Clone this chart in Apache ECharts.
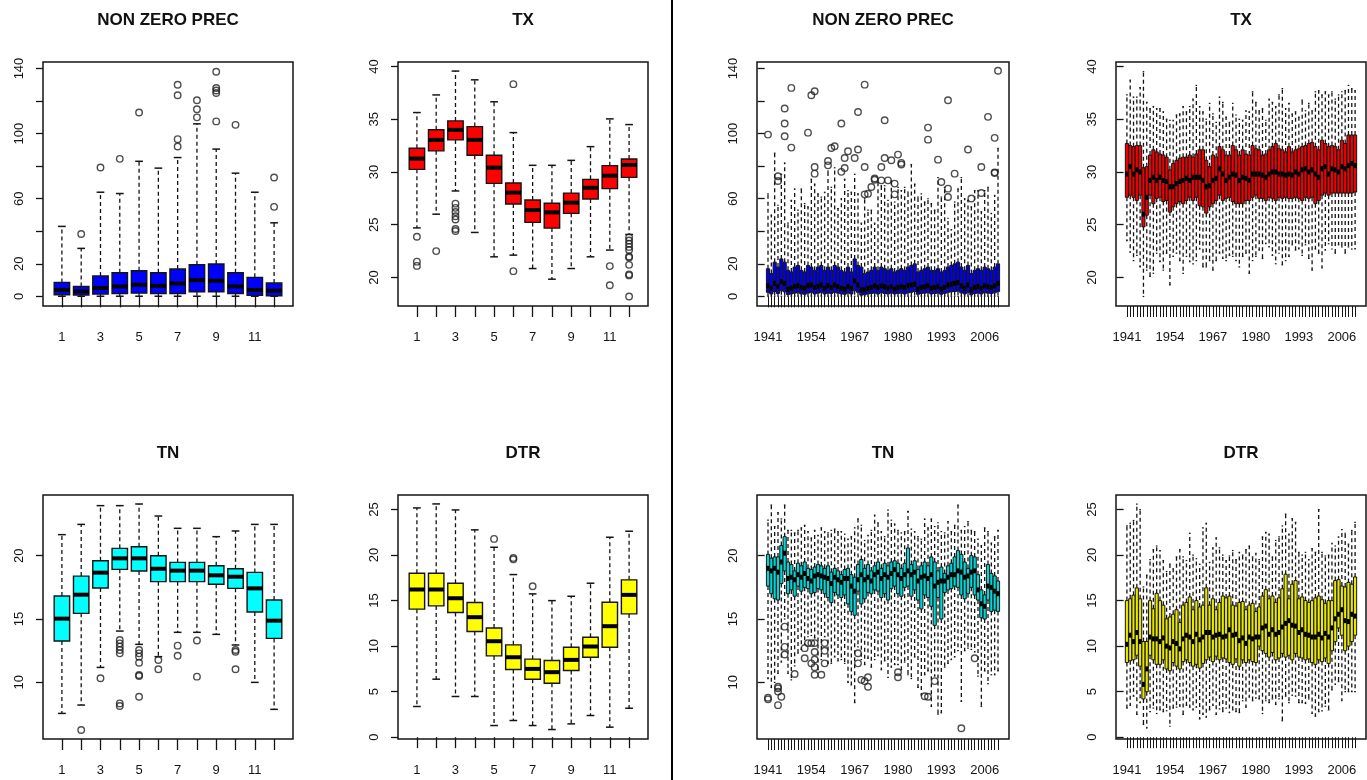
<!DOCTYPE html>
<html>
<head>
<meta charset="utf-8">
<script src="https://cdn.jsdelivr.net/npm/echarts@6/dist/echarts.min.js"></script>
<style>
  html, body { margin: 0; padding: 0; background: #ffffff; }
  #chart { width: 1367px; height: 780px; }
</style>
</head>
<body>
<div id="chart"></div>
<script>
// ---------- Monthly statistics: [lower whisker, Q1, median, Q3, upper whisker] ----------
const monthTicks = [1, 2, 3, 4, 5, 6, 7, 8, 9, 10, 11, 12];
const monthLabels = [1, 3, 5, 7, 9, 11];

const nzpMonth = [
  [0.1, 1.0, 4.0, 8.6, 43.0], [0.1, 0.8, 3.0, 6.1, 29.5], [0.1, 1.4, 5.1, 12.5, 64.0],
  [0.1, 1.8, 6.1, 14.5, 63.2], [0.1, 2.0, 7.2, 15.8, 83.0], [0.1, 1.8, 6.5, 14.5, 78.8],
  [0.1, 1.8, 8.0, 16.8, 85.3], [0.1, 2.9, 10.0, 19.4, 106.0], [0.1, 2.9, 9.6, 19.9, 90.5],
  [0.1, 1.8, 6.1, 14.5, 75.7], [0.1, 0.6, 3.9, 11.7, 64.0], [0.1, 0.4, 3.5, 8.2, 45.2]
];
const nzpMonthOutliers = [
  [], [38.3], [79.2], [84.5], [113.0], [], [130.0, 123.6, 96.6, 92.1],
  [120.5, 115.0, 110.0], [138.0, 128.0, 126.5, 125.0, 107.5], [105.4], [], [73.0, 55.0]
];

const txMonth = [
  [24.7, 30.25, 31.27, 32.25, 35.63], [26.0, 32.0, 33.04, 34.0, 37.3], [28.2, 33.04, 33.99, 34.84, 39.56],
  [24.27, 31.58, 33.04, 34.3, 38.73], [21.96, 28.92, 30.41, 31.58, 36.65], [22.12, 26.96, 28.04, 28.96, 33.73],
  [20.85, 25.22, 26.39, 27.34, 30.63], [19.84, 24.68, 26.17, 27.03, 30.63], [20.85, 26.08, 27.09, 28.0, 31.1],
  [21.96, 27.44, 28.5, 29.3, 32.4], [22.6, 28.42, 29.65, 30.6, 35.03], [24.08, 29.49, 30.66, 31.23, 34.49]
];
const txMonthOutliers = [
  [23.86, 21.5, 21.1], [22.5], [27.0, 26.6, 26.2, 25.8, 25.5, 24.6, 24.4], [], [], [38.32, 20.6],
  [], [], [], [], [21.08, 19.27], [23.8, 23.5, 23.2, 22.9, 22.6, 22.0, 21.9, 21.2, 20.3, 20.2, 18.2]
];

const tnMonth = [
  [7.55, 13.26, 15.03, 16.82, 21.66], [8.21, 15.45, 16.92, 18.39, 22.47], [11.18, 17.45, 18.66, 19.6, 23.95],
  [14.05, 18.92, 19.79, 20.58, 23.95], [13.0, 18.79, 19.79, 20.71, 24.08], [12.03, 17.95, 18.97, 20.0, 23.13],
  [13.95, 17.95, 18.82, 19.47, 22.16], [13.95, 17.95, 18.82, 19.47, 22.16], [13.79, 17.74, 18.45, 19.21, 21.5],
  [12.95, 17.42, 18.34, 18.97, 21.95], [10.0, 15.55, 17.42, 18.68, 22.47], [7.87, 13.47, 14.87, 16.5, 22.47]
];
const tnMonthOutliers = [
  [], [6.24], [10.32], [13.34, 13.08, 12.82, 12.55, 12.29, 8.34, 8.13],
  [12.55, 12.29, 12.03, 11.55, 10.58, 10.5, 8.87], [11.76, 11.03], [12.9, 12.1], [13.3, 10.45],
  [], [12.55, 12.42, 11.03], [], []
];

const dtrMonth = [
  [3.37, 14.06, 16.22, 18.0, 25.18], [6.37, 14.42, 16.22, 18.0, 25.62], [4.47, 13.69, 15.26, 16.91, 24.96],
  [4.47, 11.6, 13.18, 14.79, 22.77], [1.28, 8.93, 10.54, 12.0, 20.86], [1.83, 7.43, 8.78, 10.14, 17.86],
  [1.28, 6.37, 7.5, 8.57, 15.74], [0.84, 5.93, 7.14, 8.42, 15.0], [1.46, 7.32, 8.49, 9.88, 15.48],
  [2.38, 8.78, 9.96, 10.98, 16.91], [1.1, 9.88, 12.19, 14.82, 21.96], [3.18, 13.54, 15.63, 17.28, 22.62]
];
const dtrMonthOutliers = [[], [], [], [], [21.78], [19.69, 19.55], [16.58], [], [], [], [], []];

// ---------- Yearly statistics 1941-2010: [lower whisker, Q1, median, Q3, upper whisker] ----------
const firstYear = 1941;
const yearLabels = [1941, 1954, 1967, 1980, 1993, 2006];

const nzpYear = [
  [0.1, 2.5, 6.5, 17, 63], [0.1, 1.5, 5.0, 14, 50], [0.1, 3.0, 8.0, 21, 88], [0.1, 1.8, 6.0, 18, 56],
  [0.1, 3.5, 9.0, 23, 75], [0.1, 2.8, 8.0, 21, 82], [0.1, 1.2, 4.5, 16, 45], [0.1, 1.5, 5.0, 15, 59],
  [0.1, 2.0, 6.0, 18, 66], [0.1, 2.2, 6.5, 19, 53], [0.1, 1.5, 5.5, 16, 66], [0.1, 1.3, 5.0, 15, 57],
  [0.1, 2.0, 6.5, 19, 55], [0.1, 2.5, 7.0, 18, 72], [0.1, 1.5, 5.5, 16, 69], [0.1, 2.0, 6.0, 18, 63],
  [0.1, 2.5, 7.0, 19, 61], [0.1, 1.5, 5.0, 16, 64], [0.1, 2.0, 6.5, 18, 77], [0.1, 1.8, 5.5, 16, 67],
  [0.1, 2.5, 7.0, 19, 79], [0.1, 2.0, 6.0, 18, 54], [0.1, 1.5, 5.0, 16, 60], [0.1, 1.3, 4.5, 15, 72],
  [0.1, 2.0, 6.0, 18, 65], [0.1, 1.5, 5.0, 15, 64], [0.1, 3.5, 9.5, 23, 75], [0.1, 2.5, 7.0, 19, 63],
  [0.1, 0.8, 4.0, 18, 45], [0.1, 1.0, 4.0, 14, 60], [0.1, 1.5, 5.0, 15, 53], [0.1, 1.8, 5.5, 16, 53],
  [0.1, 2.0, 6.5, 18, 45], [0.1, 1.5, 5.5, 16, 70], [0.1, 2.2, 6.5, 18, 68], [0.1, 1.8, 6.0, 17, 68],
  [0.1, 1.5, 5.0, 16, 59], [0.1, 2.0, 6.0, 17, 71], [0.1, 1.5, 4.5, 15, 58], [0.1, 1.8, 5.5, 16, 67],
  [0.1, 2.0, 6.0, 17, 65], [0.1, 1.5, 5.5, 16, 67], [0.1, 2.2, 6.5, 18, 64], [0.1, 2.5, 7.0, 19, 81],
  [0.1, 3.0, 7.5, 20, 69], [0.1, 1.3, 4.5, 15, 61], [0.1, 1.8, 5.5, 16, 63], [0.1, 2.0, 6.0, 17, 58],
  [0.1, 2.2, 6.5, 18, 60], [0.1, 1.5, 5.0, 16, 57], [0.1, 1.8, 5.5, 16, 53], [0.1, 2.0, 6.0, 17, 73],
  [0.1, 1.3, 4.5, 15, 61], [0.1, 1.8, 5.5, 16, 67], [0.1, 2.5, 7.0, 18, 48], [0.1, 2.8, 7.5, 19, 41],
  [0.1, 3.0, 8.0, 20, 58], [0.1, 3.2, 8.5, 21, 66], [0.1, 2.2, 6.5, 18, 73], [0.1, 1.5, 5.0, 16, 60],
  [0.1, 2.5, 7.0, 19, 59], [0.1, 1.0, 4.0, 14, 55], [0.1, 1.8, 5.5, 16, 65], [0.1, 2.0, 6.0, 17, 65],
  [0.1, 1.5, 5.0, 16, 52], [0.1, 2.2, 6.5, 18, 65], [0.1, 2.0, 6.0, 17, 67], [0.1, 1.8, 5.5, 16, 51],
  [0.1, 2.2, 6.5, 18, 62], [0.1, 3.0, 8.0, 20, 91]
];
const nzpYearOutliers = [
  [1941, 99.4], [1944, 73.8], [1944, 70.9], [1946, 115.4], [1946, 106.2], [1946, 98.4],
  [1948, 128.1], [1948, 91.4], [1953, 100.6], [1954, 123.6], [1955, 126.0], [1955, 79.5],
  [1955, 75.4], [1959, 83.2], [1959, 80.5], [1960, 91.2], [1961, 92.2], [1963, 106.2],
  [1963, 76.5], [1964, 78.9], [1964, 85.0], [1965, 89.2], [1967, 85.0], [1968, 113.3],
  [1968, 90.2], [1970, 130.1], [1970, 79.5], [1970, 62.7], [1971, 63.1], [1972, 67.2],
  [1973, 71.7], [1973, 72.4], [1975, 79.5], [1975, 71.3], [1976, 108.2], [1976, 85.0],
  [1977, 71.3], [1978, 83.6], [1979, 69.3], [1979, 62.7], [1980, 87.1], [1981, 82.0],
  [1981, 81.0], [1989, 103.7], [1989, 96.3], [1992, 84.0], [1993, 70.3], [1995, 120.5],
  [1995, 66.2], [1995, 61.1], [1997, 75.4], [2001, 90.2], [2002, 60.1], [2005, 79.5],
  [2005, 63.5], [2007, 110.3], [2009, 97.4], [2009, 75.8], [2009, 76.2], [2010, 138.6]
];

const txYear = [
  [23.5, 27.6, 29.8, 32.7, 37.3], [22.4, 27.8, 30.5, 32.5, 38.7], [21.6, 27.6, 29.8, 32.4, 37.1],
  [22.1, 27.3, 30.2, 32.5, 37.1], [21.0, 27.8, 30.0, 32.5, 38.0], [18.2, 24.8, 26.0, 30.4, 39.5],
  [20.7, 25.9, 27.6, 30.5, 36.6], [20.1, 27.8, 29.2, 31.6, 36.0], [20.4, 27.0, 29.5, 32.1, 36.2],
  [22.3, 27.5, 29.2, 31.9, 36.0], [21.5, 27.6, 29.5, 31.7, 36.0], [20.7, 27.2, 29.2, 31.6, 35.7],
  [22.3, 27.3, 29.1, 31.4, 35.0], [19.3, 26.2, 28.6, 30.2, 34.9], [22.0, 26.7, 28.6, 30.8, 34.9],
  [22.3, 27.0, 28.9, 31.1, 35.4], [21.6, 27.2, 29.1, 31.3, 35.5], [20.4, 27.0, 29.2, 31.4, 36.2],
  [22.0, 27.3, 29.4, 31.4, 35.7], [21.5, 27.6, 29.2, 31.6, 36.2], [21.3, 27.3, 29.5, 31.4, 36.9],
  [21.6, 27.6, 29.5, 31.7, 38.2], [22.7, 26.8, 29.5, 32.1, 36.2], [21.0, 26.7, 29.2, 32.1, 35.7],
  [21.0, 26.1, 28.6, 31.1, 35.0], [21.6, 26.7, 28.7, 30.5, 36.5], [20.7, 27.0, 29.2, 31.6, 35.5],
  [21.6, 27.3, 29.4, 31.4, 34.7], [22.3, 27.8, 30.3, 32.4, 37.1], [21.8, 27.3, 29.8, 32.1, 36.6],
  [21.6, 27.5, 29.2, 31.6, 35.2], [22.1, 27.6, 29.5, 31.6, 34.7], [22.0, 27.2, 29.8, 32.5, 36.5],
  [21.6, 27.0, 29.7, 32.1, 35.4], [21.0, 27.0, 29.2, 31.6, 35.0], [22.0, 27.0, 29.5, 32.1, 34.9],
  [22.3, 27.3, 29.4, 31.7, 35.8], [20.4, 27.3, 29.2, 31.6, 35.7], [21.6, 27.6, 29.8, 32.5, 37.6],
  [22.0, 27.8, 29.8, 32.2, 36.6], [22.6, 27.5, 29.8, 32.1, 35.8], [21.8, 27.5, 29.7, 31.6, 36.0],
  [23.2, 27.3, 29.5, 31.7, 34.9], [22.9, 27.6, 29.8, 32.1, 36.9], [22.1, 27.5, 30.0, 32.4, 36.6],
  [21.3, 27.3, 30.0, 32.7, 36.2], [22.3, 27.6, 29.8, 32.2, 37.3], [21.2, 27.5, 29.8, 32.1, 37.9],
  [21.6, 27.6, 29.7, 31.9, 36.0], [22.0, 27.5, 29.8, 32.4, 36.5], [23.1, 27.5, 29.7, 31.9, 35.5],
  [22.6, 27.6, 30.0, 32.1, 35.7], [22.7, 27.5, 29.8, 32.2, 35.2], [22.1, 27.3, 30.2, 32.4, 36.8],
  [23.1, 27.6, 30.3, 32.5, 35.8], [21.8, 27.5, 30.0, 32.7, 36.5], [20.7, 27.6, 30.2, 32.8, 35.8],
  [22.7, 27.0, 29.8, 32.4, 37.6], [22.3, 27.3, 29.5, 32.1, 37.7], [20.9, 27.8, 30.3, 33.0, 37.3],
  [22.6, 28.0, 30.5, 32.7, 37.6], [23.2, 27.8, 29.8, 32.4, 37.3], [22.7, 28.0, 30.3, 32.5, 37.6],
  [22.3, 28.0, 30.2, 32.4, 36.9], [23.1, 28.0, 30.0, 32.1, 37.3], [22.9, 28.0, 30.5, 33.0, 37.6],
  [22.3, 28.0, 30.3, 32.7, 37.7], [22.9, 28.0, 30.6, 33.5, 38.2], [22.7, 28.0, 30.8, 33.5, 37.9],
  [22.7, 28.1, 30.6, 33.5, 37.7]
];

const tnYear = [
  [10.3, 17.6, 19.0, 20.1, 22.8], [9.6, 17.0, 18.8, 19.8, 24.0], [10.0, 16.6, 19.0, 19.9, 22.3],
  [10.7, 16.5, 18.7, 19.9, 23.4], [11.6, 17.8, 19.5, 20.8, 22.9], [15.0, 18.8, 20.2, 21.5, 24.0],
  [10.7, 17.0, 18.2, 19.5, 22.0], [10.2, 17.3, 18.3, 19.3, 22.0], [11.3, 16.8, 18.1, 18.8, 21.8],
  [12.3, 17.6, 18.5, 19.4, 22.0], [12.6, 17.2, 18.3, 19.2, 22.2], [13.0, 17.5, 18.6, 19.5, 22.4],
  [13.6, 17.4, 18.2, 19.0, 21.9], [13.7, 17.0, 18.0, 18.9, 21.4], [13.5, 17.1, 18.4, 19.1, 22.0],
  [11.0, 17.4, 18.5, 19.3, 21.6], [11.8, 17.3, 18.4, 19.2, 22.2], [13.6, 17.0, 18.3, 19.0, 21.9],
  [11.5, 16.7, 18.2, 19.2, 21.8], [11.5, 16.3, 17.8, 18.7, 22.0], [12.0, 17.1, 18.3, 19.0, 22.1],
  [11.7, 16.9, 18.1, 18.8, 21.9], [11.8, 16.7, 17.9, 18.5, 21.9], [11.5, 16.9, 18.2, 18.9, 21.7],
  [10.0, 16.2, 18.2, 19.0, 21.3], [9.8, 15.6, 17.6, 18.5, 21.5], [8.4, 15.3, 17.2, 18.3, 22.2],
  [12.8, 17.2, 18.1, 19.3, 22.9], [11.8, 16.2, 18.5, 19.7, 22.4], [11.4, 16.6, 18.1, 19.0, 21.2],
  [11.9, 17.1, 18.3, 19.3, 21.6], [11.2, 17.0, 18.0, 18.8, 22.0], [11.8, 17.3, 18.5, 19.2, 23.2],
  [12.1, 17.2, 18.7, 19.5, 22.6], [11.0, 16.7, 18.2, 19.0, 21.9], [11.7, 17.0, 18.5, 19.4, 21.5],
  [10.4, 16.5, 18.3, 19.2, 23.6], [11.2, 17.4, 18.6, 19.5, 22.8], [11.4, 17.6, 18.9, 19.6, 22.5],
  [11.4, 17.0, 18.5, 19.4, 22.0], [11.0, 16.8, 18.2, 19.0, 21.8], [11.6, 17.5, 18.5, 19.4, 21.9],
  [10.6, 17.6, 18.8, 20.6, 23.5], [10.3, 16.8, 18.5, 19.3, 22.1], [12.0, 17.3, 18.7, 19.6, 21.9],
  [9.6, 16.5, 18.0, 18.9, 21.5], [9.0, 15.8, 18.3, 19.2, 21.3], [10.6, 16.9, 18.4, 19.5, 22.9],
  [10.9, 16.7, 18.2, 19.2, 22.2], [8.1, 16.0, 18.5, 19.9, 22.9], [10.5, 14.5, 17.6, 19.5, 22.3],
  [7.5, 16.7, 17.9, 18.8, 22.6], [7.6, 15.0, 18.0, 19.1, 21.9], [11.2, 17.1, 18.0, 18.6, 21.8],
  [11.5, 17.3, 18.3, 19.2, 22.7], [11.8, 17.4, 18.5, 19.4, 21.9], [12.0, 17.6, 18.5, 19.9, 22.4],
  [12.5, 17.5, 18.8, 20.4, 24.0], [8.5, 16.9, 18.7, 20.1, 22.0], [12.5, 16.6, 18.3, 19.5, 22.3],
  [12.7, 17.0, 18.4, 19.0, 22.7], [12.6, 17.5, 18.7, 20.0, 22.0], [12.4, 16.9, 18.8, 19.9, 21.9],
  [10.5, 16.5, 17.3, 18.5, 21.3], [8.1, 15.1, 16.2, 17.3, 20.8], [10.9, 15.0, 16.0, 16.9, 22.2],
  [9.9, 16.5, 17.6, 19.3, 21.9], [10.6, 15.6, 17.5, 18.6, 21.0], [10.6, 15.7, 17.2, 18.4, 21.5],
  [10.9, 15.6, 17.0, 18.0, 22.0]
];
const tnYearOutliers = [
  [1941, 8.79], [1941, 8.66], [1944, 9.66], [1944, 9.27], [1944, 9.53], [1944, 8.2],
  [1945, 8.87], [1946, 14.4], [1946, 12.8], [1946, 12.2], [1949, 10.66], [1952, 11.9],
  [1952, 12.7], [1953, 13.1], [1954, 13.1], [1954, 11.5], [1955, 13.1], [1955, 12.4],
  [1955, 11.8], [1955, 11.2], [1955, 10.6], [1957, 10.6], [1958, 13.1], [1958, 12.5],
  [1958, 11.5], [1968, 12.3], [1968, 11.5], [1969, 10.2], [1970, 10.1], [1971, 9.66],
  [1971, 10.4], [1980, 10.8], [1980, 10.4], [1988, 8.9], [1989, 8.87], [1991, 10.1],
  [1999, 6.38], [2003, 11.9]
];

const dtrYear = [
  [3.2, 8.2, 10.2, 15.0, 23.2], [3.5, 8.4, 11.2, 15.2, 23.5], [4.5, 8.5, 10.5, 15.6, 23.8],
  [2.5, 9.0, 11.5, 16.4, 25.6], [3.8, 7.8, 10.5, 15.2, 25.0], [1.4, 4.2, 5.8, 10.5, 16.5],
  [1.0, 5.0, 7.5, 10.5, 17.8], [2.8, 9.0, 11.0, 15.0, 19.5], [3.2, 8.5, 10.8, 14.1, 20.6],
  [2.6, 8.0, 10.8, 15.8, 21.0], [3.0, 8.0, 10.5, 15.0, 20.5], [2.8, 8.5, 10.9, 14.5, 19.4],
  [2.9, 7.5, 10.0, 13.0, 18.2], [1.2, 7.3, 9.8, 13.2, 19.0], [3.2, 8.2, 10.5, 13.5, 18.5],
  [3.3, 7.8, 10.3, 14.0, 19.8], [3.4, 7.5, 9.7, 12.6, 20.6], [2.5, 8.3, 10.8, 14.5, 19.8],
  [3.5, 8.5, 11.2, 14.8, 19.4], [3.3, 8.2, 11.0, 15.4, 22.4], [3.0, 7.8, 10.5, 14.0, 20.0],
  [3.3, 8.0, 11.3, 15.0, 19.6], [2.0, 7.6, 10.7, 14.3, 19.0], [2.5, 8.1, 11.0, 14.5, 23.0],
  [2.2, 8.5, 11.5, 16.4, 23.5], [3.0, 8.8, 11.5, 14.5, 19.2], [3.5, 8.3, 11.0, 15.2, 20.8],
  [2.5, 8.9, 11.2, 14.0, 21.9], [3.1, 8.5, 11.3, 14.8, 20.8], [2.8, 8.7, 11.0, 15.5, 20.0],
  [3.2, 8.6, 11.1, 15.3, 19.4], [2.7, 8.2, 11.8, 15.5, 19.9], [3.0, 8.0, 11.2, 14.5, 20.5],
  [2.8, 8.6, 11.3, 14.4, 19.5], [2.7, 7.8, 10.6, 14.8, 20.3], [4.0, 8.5, 10.9, 14.9, 20.0],
  [3.3, 8.2, 10.3, 14.0, 20.6], [4.4, 8.5, 11.0, 14.5, 21.0], [4.0, 8.3, 10.8, 14.7, 19.8],
  [4.3, 8.2, 11.0, 13.8, 20.2], [4.2, 10.0, 11.0, 14.3, 19.5], [2.6, 9.5, 12.0, 15.5, 22.0],
  [4.0, 9.2, 12.2, 16.2, 22.5], [3.8, 8.8, 11.3, 15.2, 22.3], [4.2, 9.3, 11.8, 15.5, 19.8],
  [3.6, 8.5, 11.3, 14.8, 21.6], [4.2, 8.7, 11.5, 15.3, 22.0], [1.8, 9.2, 12.1, 16.3, 23.2],
  [4.5, 8.8, 12.5, 17.9, 24.5], [3.8, 9.0, 12.8, 15.2, 22.3], [4.6, 8.5, 12.3, 16.8, 24.0],
  [4.5, 9.2, 12.2, 17.2, 23.6], [3.8, 8.8, 11.5, 15.2, 20.3], [3.8, 8.7, 11.8, 15.4, 20.0],
  [3.7, 8.5, 11.3, 15.0, 20.3], [4.2, 8.6, 11.2, 14.8, 19.5], [2.6, 8.2, 11.0, 15.0, 20.7],
  [2.3, 8.0, 11.0, 15.3, 20.3], [2.8, 8.5, 11.3, 15.5, 25.0], [2.9, 8.3, 10.9, 15.1, 20.3],
  [3.4, 8.7, 11.4, 14.7, 19.9], [3.0, 8.1, 11.0, 15.0, 20.0], [5.2, 9.5, 12.0, 15.0, 21.3],
  [5.8, 10.5, 13.0, 17.2, 21.0], [6.1, 12.0, 13.5, 17.3, 22.0], [4.0, 11.2, 14.0, 16.6, 22.8],
  [5.0, 9.5, 12.8, 16.5, 22.4], [5.0, 10.0, 12.7, 17.0, 21.2], [5.0, 10.5, 13.5, 16.8, 22.7],
  [5.0, 11.2, 13.3, 17.6, 23.6]
];

// ---------- Rendering ----------
const FONT = '"Liberation Sans", Arial, Helvetica, sans-serif';
const INK = '#141414';

// Each box is drawn R-style: dashed whiskers, short staples, filled box, heavy median bar.
function boxRenderer(fill, o) {
  return function (params, api) {
    const x = api.value(0);
    const pLo = api.coord([x, api.value(1)]);
    const pQ1 = api.coord([x, api.value(2)]);
    const pMed = api.coord([x, api.value(3)]);
    const pQ3 = api.coord([x, api.value(4)]);
    const pHi = api.coord([x, api.value(5)]);
    const cx = pLo[0];
    const half = api.size([o.boxWex, 0])[0] / 2;
    const staple = half * 0.5;
    const dashStyle = { stroke: INK, lineWidth: o.whiskerWidth, lineDash: o.dash, fill: null };
    const solid = { stroke: INK, lineWidth: o.stapleWidth, fill: null };
    return {
      type: 'group',
      children: [
        { type: 'line', shape: { x1: cx, y1: pQ3[1], x2: cx, y2: pHi[1] }, style: dashStyle },
        { type: 'line', shape: { x1: cx, y1: pQ1[1], x2: cx, y2: pLo[1] }, style: dashStyle },
        { type: 'line', shape: { x1: cx - staple, y1: pHi[1], x2: cx + staple, y2: pHi[1] }, style: solid },
        { type: 'line', shape: { x1: cx - staple, y1: pLo[1], x2: cx + staple, y2: pLo[1] }, style: solid },
        { type: 'rect', shape: { x: cx - half, y: pQ3[1], width: 2 * half, height: pQ1[1] - pQ3[1] },
          style: { fill: fill, stroke: INK, lineWidth: o.boxLine } },
        { type: 'line', shape: { x1: cx - half, y1: pMed[1], x2: cx + half, y2: pMed[1] },
          style: { stroke: '#000', lineWidth: o.medianWidth } }
      ]
    };
  };
}

const monthStyle = { boxWex: 0.8, whiskerWidth: 1.3, dash: [4, 3], stapleWidth: 1.5, boxLine: 1.4, medianWidth: 4 };
const yearStyle = { boxWex: 0.95, whiskerWidth: 1.3, dash: [4, 3], stapleWidth: 1.2, boxLine: 1.0, medianWidth: 5 };

const panels = [
  { title: 'NON ZERO PREC', left: 43, top: 62, width: 250, stats: nzpMonth, outliers: nzpMonthOutliers, kind: 'month',
    color: '#0000ff', yMin: -5.9, yMax: 144, yTicks: [0, 20, 40, 60, 80, 100, 120, 140], yLabels: [0, 20, 60, 100, 140] },
  { title: 'TX', left: 398, top: 62, width: 250, stats: txMonth, outliers: txMonthOutliers, kind: 'month',
    color: '#ff0000', yMin: 17.3, yMax: 40.42, yTicks: [20, 25, 30, 35, 40], yLabels: [20, 25, 30, 35, 40] },
  { title: 'TN', left: 43, top: 495, width: 250, stats: tnMonth, outliers: tnMonthOutliers, kind: 'month',
    color: '#00ffff', yMin: 5.53, yMax: 24.79, yTicks: [10, 15, 20], yLabels: [10, 15, 20] },
  { title: 'DTR', left: 398, top: 495, width: 250, stats: dtrMonth, outliers: dtrMonthOutliers, kind: 'month',
    color: '#ffff00', yMin: -0.2, yMax: 26.6, yTicks: [0, 5, 10, 15, 20, 25], yLabels: [0, 5, 10, 15, 20, 25] },
  { title: 'NON ZERO PREC', left: 757, top: 62, width: 252, stats: nzpYear, outliers: nzpYearOutliers, kind: 'year',
    color: '#0000f0', yMin: -5.9, yMax: 144, yTicks: [0, 20, 40, 60, 80, 100, 120, 140], yLabels: [0, 20, 60, 100, 140] },
  { title: 'TX', left: 1116, top: 62, width: 250, stats: txYear, outliers: [], kind: 'year',
    color: '#f00000', yMin: 17.3, yMax: 40.42, yTicks: [20, 25, 30, 35, 40], yLabels: [20, 25, 30, 35, 40] },
  { title: 'TN', left: 757, top: 495, width: 252, stats: tnYear, outliers: tnYearOutliers, kind: 'year',
    color: '#00d8d8', yMin: 5.53, yMax: 24.79, yTicks: [10, 15, 20], yLabels: [10, 15, 20] },
  { title: 'DTR', left: 1116, top: 495, width: 250, stats: dtrYear, outliers: [], kind: 'year',
    color: '#e8e800', yMin: -0.2, yMax: 26.6, yTicks: [0, 5, 10, 15, 20, 25], yLabels: [0, 5, 10, 15, 20, 25] }
];
const PANEL_H = 244;

const grid = [], xAxis = [], yAxis = [], series = [], graphic = [];

panels.forEach(function (p, g) {
  const n = p.stats.length;
  const pad = 0.04 * n;
  grid.push({ left: p.left, top: p.top, width: p.width, height: PANEL_H, show: true,
    borderColor: INK, borderWidth: 1.5, backgroundColor: 'transparent', containLabel: false, outerBoundsMode: 'none' });

  const isYear = p.kind === 'year';
  const tickVals = isYear ? p.stats.map(function (_, i) { return i + 1; }) : monthTicks;
  const labelVals = isYear ? yearLabels.map(function (y) { return y - firstYear + 1; }) : monthLabels;

  xAxis.push({
    gridIndex: g, type: 'value', min: 0.5 - pad, max: n + 0.5 + pad,
    axisLine: { show: false }, splitLine: { show: false },
    axisTick: { show: true, customValues: tickVals, length: 11, lineStyle: { color: INK, width: isYear ? 1 : 1.3 } },
    axisLabel: { show: true, customValues: labelVals, margin: 25, fontSize: 13, color: INK, fontFamily: FONT,
      formatter: function (v) { return isYear ? String(firstYear - 1 + Math.round(v)) : String(Math.round(v)); } }
  });
  yAxis.push({
    gridIndex: g, type: 'value', min: p.yMin, max: p.yMax,
    axisLine: { show: false }, splitLine: { show: false },
    axisTick: { show: true, customValues: p.yTicks, length: 7, lineStyle: { color: INK, width: 1.3 } },
    axisLabel: { show: true, customValues: p.yLabels, rotate: 90, margin: 17, fontSize: 13, color: INK, fontFamily: FONT }
  });

  series.push({
    type: 'custom', xAxisIndex: g, yAxisIndex: g, silent: true, clip: false,
    renderItem: boxRenderer(p.color, isYear ? yearStyle : monthStyle),
    encode: { x: 0, y: [1, 2, 3, 4, 5] },
    data: p.stats.map(function (s, i) { return [i + 1].concat(s); })
  });

  let pts = [];
  if (isYear) {
    pts = p.outliers.map(function (o) { return [o[0] - firstYear + 1, o[1]]; });
  } else {
    p.outliers.forEach(function (vals, i) { vals.forEach(function (v) { pts.push([i + 1, v]); }); });
  }
  if (pts.length) {
    series.push({
      type: 'scatter', xAxisIndex: g, yAxisIndex: g, silent: true, z: 4,
      symbol: 'circle', symbolSize: 6.5, data: pts,
      itemStyle: { color: 'transparent', borderColor: '#222', borderWidth: 1.4 }
    });
  }

  graphic.push({
    type: 'text', x: p.left + p.width / 2, y: p.top < 300 ? 20 : 453,
    style: { text: p.title, align: 'center', verticalAlign: 'middle',
      font: 'bold 17px ' + FONT, fill: '#111' }
  });
});

// Divider between the monthly and yearly blocks
graphic.push({ type: 'line', shape: { x1: 672, y1: 0, x2: 672, y2: 780 }, style: { stroke: '#000', lineWidth: 2 } });

const chart = echarts.init(document.getElementById('chart'), null, { renderer: 'canvas' });
chart.setOption({
  animation: false,
  backgroundColor: '#ffffff',
  grid: grid, xAxis: xAxis, yAxis: yAxis, series: series, graphic: graphic
});
</script>
</body>
</html>
